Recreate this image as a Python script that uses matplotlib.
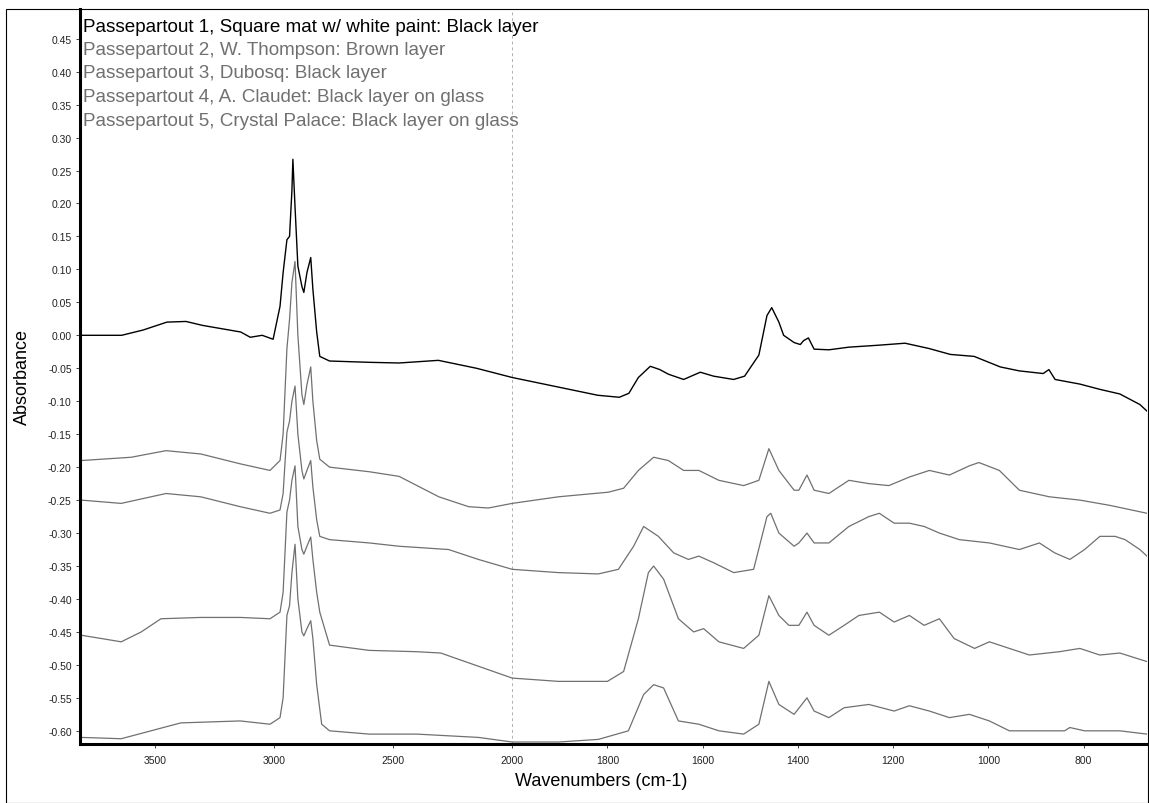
import matplotlib
matplotlib.use('Agg')
import matplotlib.pyplot as plt
import numpy as np
from matplotlib.patches import Rectangle
from matplotlib.ticker import FixedLocator, FormatStrFormatter

plt.rcParams['font.family'] = ['Liberation Sans', 'DejaVu Sans']

# spectra: wavenumber (cm-1) and absorbance
wn1 = [3810, 3640, 3550, 3450, 3370, 3300, 3140, 3100, 3050, 3004, 2975, 2962, 2946, 2935,
       2925, 2921, 2912, 2900, 2883, 2875, 2862, 2846, 2837, 2821, 2808, 2767, 2600, 2475,
       2310, 2150, 2000, 1900, 1820, 1775, 1755, 1735, 1710, 1690, 1672, 1640, 1605, 1577,
       1535, 1512, 1482, 1465, 1455, 1440, 1430, 1408, 1395, 1388, 1378, 1366, 1335, 1293,
       1230, 1175, 1125, 1080, 1030, 975, 935, 885, 873, 860, 808, 766, 724, 682, 667]
ab1 = [0.0, 0.0, 0.008, 0.02, 0.021, 0.015, 0.005, -0.003, 0.0, -0.006, 0.044, 0.095, 0.145, 0.15,
       0.22, 0.267, 0.195, 0.105, 0.074, 0.065, 0.095, 0.118, 0.07, 0.005, -0.032, -0.039, -0.041, -0.042,
       -0.038, -0.05, -0.064, -0.079, -0.091, -0.094, -0.088, -0.064, -0.047, -0.052, -0.059, -0.067, -0.056, -0.062,
       -0.067, -0.062, -0.03, 0.03, 0.042, 0.02, 0.0, -0.011, -0.014, -0.008, -0.004, -0.021, -0.022, -0.018,
       -0.015, -0.012, -0.02, -0.029, -0.032, -0.048, -0.054, -0.058, -0.052, -0.067, -0.074, -0.082, -0.089, -0.105, -0.115]

wn2 = [3810, 3600, 3454, 3308, 3142, 3017, 2975, 2962, 2946, 2935, 2925, 2912, 2900, 2883,
       2875, 2862, 2846, 2837, 2821, 2808, 2767, 2600, 2475, 2308, 2183, 2100, 2000, 1903,
       1798, 1766, 1735, 1703, 1672, 1640, 1608, 1566, 1514, 1482, 1461, 1440, 1408, 1398,
       1381, 1366, 1335, 1293, 1251, 1209, 1166, 1124, 1082, 1040, 1020, 977, 935, 872,
       808, 745, 667]
ab2 = [-0.19, -0.185, -0.175, -0.18, -0.195, -0.205, -0.19, -0.15, -0.02, 0.024, 0.08, 0.112, 0.0, -0.09,
       -0.105, -0.075, -0.048, -0.1, -0.16, -0.188, -0.2, -0.207, -0.214, -0.245, -0.26, -0.262, -0.255, -0.245,
       -0.238, -0.232, -0.205, -0.185, -0.19, -0.205, -0.205, -0.22, -0.228, -0.22, -0.172, -0.205, -0.235, -0.235,
       -0.212, -0.235, -0.24, -0.22, -0.225, -0.228, -0.215, -0.205, -0.212, -0.198, -0.193, -0.205, -0.235, -0.245,
       -0.25, -0.258, -0.27]

wn3 = [3810, 3642, 3454, 3308, 3142, 3017, 2975, 2962, 2946, 2935, 2925, 2912, 2900, 2883,
       2875, 2862, 2846, 2837, 2821, 2808, 2767, 2600, 2475, 2267, 2142, 2000, 1903, 1819,
       1777, 1745, 1724, 1693, 1661, 1630, 1608, 1577, 1535, 1493, 1465, 1457, 1440, 1408,
       1398, 1381, 1366, 1335, 1293, 1251, 1229, 1198, 1166, 1135, 1103, 1061, 998, 935,
       893, 861, 829, 798, 766, 734, 713, 682, 667]
ab3 = [-0.25, -0.255, -0.24, -0.245, -0.26, -0.27, -0.265, -0.24, -0.147, -0.13, -0.1, -0.077, -0.15, -0.205,
       -0.218, -0.205, -0.19, -0.23, -0.28, -0.305, -0.31, -0.315, -0.32, -0.325, -0.34, -0.355, -0.36, -0.362,
       -0.355, -0.32, -0.29, -0.305, -0.33, -0.34, -0.335, -0.345, -0.36, -0.355, -0.275, -0.27, -0.3, -0.32,
       -0.315, -0.3, -0.315, -0.315, -0.29, -0.275, -0.27, -0.285, -0.285, -0.29, -0.3, -0.31, -0.315, -0.325,
       -0.315, -0.33, -0.34, -0.325, -0.305, -0.305, -0.31, -0.325, -0.335]

wn4 = [3810, 3725, 3642, 3558, 3475, 3308, 3142, 3017, 2975, 2962, 2946, 2935, 2925, 2912,
       2900, 2883, 2875, 2862, 2846, 2837, 2821, 2808, 2767, 2600, 2400, 2300, 2000, 1903,
       1800, 1766, 1735, 1714, 1703, 1682, 1651, 1619, 1598, 1566, 1514, 1482, 1461, 1440,
       1419, 1398, 1381, 1366, 1335, 1303, 1272, 1229, 1198, 1166, 1135, 1103, 1072, 1029,
       998, 956, 914, 851, 808, 766, 724, 667]
ab4 = [-0.455, -0.46, -0.465, -0.45, -0.43, -0.428, -0.428, -0.43, -0.42, -0.39, -0.268, -0.25, -0.22, -0.198,
       -0.29, -0.325, -0.332, -0.32, -0.306, -0.34, -0.39, -0.42, -0.47, -0.478, -0.48, -0.482, -0.52, -0.525,
       -0.525, -0.51, -0.43, -0.36, -0.35, -0.37, -0.43, -0.45, -0.445, -0.465, -0.475, -0.455, -0.395, -0.425,
       -0.44, -0.44, -0.42, -0.44, -0.455, -0.44, -0.425, -0.42, -0.435, -0.425, -0.44, -0.43, -0.46, -0.475,
       -0.465, -0.475, -0.485, -0.48, -0.475, -0.485, -0.482, -0.495]

wn5 = [3810, 3642, 3517, 3392, 3142, 3017, 2975, 2962, 2946, 2935, 2925, 2912, 2900, 2883,
       2875, 2862, 2846, 2837, 2821, 2800, 2767, 2600, 2400, 2142, 2000, 1903, 1819, 1756,
       1724, 1703, 1682, 1651, 1608, 1566, 1514, 1482, 1461, 1440, 1408, 1381, 1366, 1335,
       1303, 1251, 1198, 1166, 1124, 1082, 1040, 998, 956, 893, 840, 829, 798, 724, 667]
ab5 = [-0.61, -0.612, -0.6, -0.588, -0.585, -0.59, -0.58, -0.55, -0.425, -0.41, -0.36, -0.317, -0.4, -0.45,
       -0.456, -0.445, -0.433, -0.46, -0.53, -0.59, -0.6, -0.605, -0.605, -0.61, -0.617, -0.617, -0.613, -0.6,
       -0.545, -0.53, -0.535, -0.585, -0.59, -0.6, -0.605, -0.59, -0.525, -0.56, -0.575, -0.55, -0.57, -0.58,
       -0.565, -0.56, -0.57, -0.562, -0.57, -0.58, -0.575, -0.585, -0.6, -0.6, -0.6, -0.595, -0.6, -0.6, -0.605]

labels = ['Passepartout 1, Square mat w/ white paint: Black layer',
          'Passepartout 2, W. Thompson: Brown layer',
          'Passepartout 3, Dubosq: Black layer',
          'Passepartout 4, A. Claudet: Black layer on glass',
          'Passepartout 5, Crystal Palace: Black layer on glass']
colors = ['black', '#707070', '#707070', '#707070', '#707070']

x_ticks = [3500, 3000, 2500, 2000, 1800, 1600, 1400, 1200, 1000, 800]
y_ticks = np.round(np.arange(-0.60, 0.451, 0.05), 2)


# OMNIC style split axis: region below 2000 cm-1 expanded two times
def fwd(x):
    x = np.asarray(x, dtype=float)
    return np.where(x >= 2000, x - 2000, 2 * (x - 2000))


def inv(u):
    u = np.asarray(u, dtype=float)
    return np.where(u >= 0, u + 2000, u / 2 + 2000)


W, H = 1149, 804
fig = plt.figure(figsize=(W / 100, H / 100), dpi=100)
ax = fig.add_axes([80 / W, (H - 745) / H, (1147 - 80) / W, (745 - 10) / H])

# outer frame of the picture
fig.patches.append(Rectangle((6 / W, 0), (W - 7) / W, (H - 10) / H, transform=fig.transFigure,
                             fill=False, lw=0.8, ec='black'))

ax.set_xscale('function', functions=(fwd, inv))
ax.set_xlim(3815, 667)
ax.set_ylim(-0.62, 0.495)

series = [(wn1, ab1), (wn2, ab2), (wn3, ab3), (wn4, ab4), (wn5, ab5)]
for (wn, ab), c in zip(series, colors):
    ax.plot(wn, ab, color=c, lw=1.0 if c == 'black' else 0.9)

ax.axvline(2000, color='#b0b0b0', lw=0.7, ls=(0, (3, 3)), zorder=0)

for sp in ['top', 'right']:
    ax.spines[sp].set_visible(False)
for sp in ['left', 'bottom']:
    ax.spines[sp].set_linewidth(2.2)

ax.xaxis.set_major_locator(FixedLocator(x_ticks))
ax.xaxis.set_minor_locator(FixedLocator([]))
ax.set_xticklabels([str(t) for t in x_ticks])
ax.yaxis.set_major_locator(FixedLocator(y_ticks))
ax.yaxis.set_major_formatter(FormatStrFormatter('%.2f'))
ax.tick_params(axis='both', labelsize=7.5, length=3, width=0.6, colors='#222222')
ax.tick_params(axis='x', pad=5)
ax.tick_params(axis='y', pad=3)

ax.set_xlabel('Wavenumbers (cm-1)', fontsize=13)
ax.xaxis.set_label_coords((601 - 80) / 1067, -0.038)
ax.set_ylabel('Absorbance', fontsize=13)
ax.yaxis.set_label_coords(-0.046, 0.5)

for i, (lab, c) in enumerate(zip(labels, colors)):
    fig.text(83 / W, 1 - (27 + 23.5 * i) / H, lab, color=c, fontsize=13.6, va='center', ha='left')

fig.savefig('out.png', dpi=100)
